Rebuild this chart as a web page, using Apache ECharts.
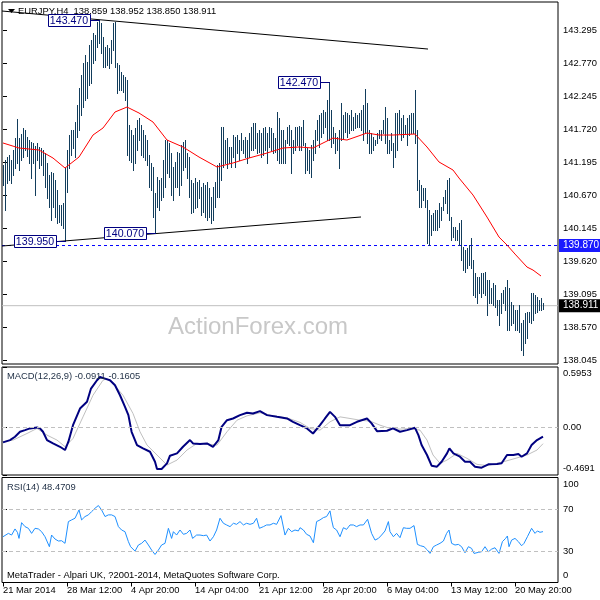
<!DOCTYPE html>
<html><head><meta charset="utf-8">
<script src="https://cdn.jsdelivr.net/npm/echarts@6/dist/echarts.min.js"></script>
<style>html,body{margin:0;padding:0;background:#fff}#c{width:600px;height:600px}</style>
</head><body><div id="c"></div>
<script>
// ---- price bars (H4), index 0 = first visible bar ----
const high = [141.154,141.233,141.281,141.313,141.233,141.393,141.584,141.887,141.584,141.648,
141.744,141.712,141.600,141.552,141.521,141.505,141.457,141.505,141.441,141.425,
141.393,141.345,141.186,140.994,141.042,141.026,140.914,140.755,140.516,140.516,
140.548,141.106,141.393,141.632,141.712,141.712,141.839,142.110,142.381,142.588,
142.780,142.907,142.796,143.067,143.146,143.258,143.226,143.433,143.470,143.417,
143.194,143.035,143.067,143.019,143.146,143.417,143.433,142.780,142.748,142.636,
142.588,142.556,142.509,141.791,141.712,141.632,141.744,141.871,141.903,141.791,
141.712,141.632,141.552,141.313,141.186,141.122,140.707,140.962,140.914,140.946,
141.233,141.552,141.552,141.505,141.345,141.122,141.202,141.361,141.345,141.473,
141.521,141.552,141.345,141.281,140.914,140.867,140.946,140.883,140.914,140.803,
140.867,140.835,140.883,140.787,140.643,140.803,140.883,141.154,141.186,141.760,
141.760,141.552,141.584,141.441,141.441,141.632,141.600,141.632,141.552,141.664,
141.552,141.600,141.552,141.664,141.760,141.823,141.823,141.664,141.712,141.664,
141.744,141.760,141.664,141.760,141.744,141.664,141.584,141.999,141.903,141.712,
141.712,141.552,141.760,141.791,141.712,141.552,141.760,141.760,141.776,141.760,
141.871,141.505,141.425,141.393,141.473,141.552,141.712,141.871,141.951,141.983,
142.031,141.999,142.190,142.470,142.031,141.760,141.664,141.600,141.712,142.142,
141.951,141.999,141.983,141.951,142.031,141.919,141.983,141.951,141.983,142.031,
142.110,142.365,142.142,141.712,141.664,141.600,141.552,141.664,141.712,141.712,
141.871,142.078,141.903,141.552,141.664,141.505,141.983,141.983,142.031,141.903,
141.951,141.791,141.903,141.951,141.983,141.983,142.349,141.712,140.914,140.835,
140.787,140.787,140.596,140.436,140.356,140.388,140.436,140.436,140.548,140.484,
140.643,140.755,140.914,140.946,140.324,140.165,140.165,140.117,140.229,140.277,
139.846,139.798,139.830,139.878,139.989,139.639,139.431,139.368,139.368,139.431,
139.431,139.447,139.320,139.320,139.192,139.272,139.240,139.001,139.001,139.113,
139.160,139.208,139.320,139.192,138.969,138.921,138.841,138.841,138.921,138.634,
138.682,138.793,138.809,138.809,139.113,139.113,139.081,139.049,139.001,139.033,
138.952];
const low = [140.835,140.436,140.867,140.914,140.867,140.994,141.106,141.186,141.074,141.233,
141.281,141.393,141.297,141.186,140.946,141.186,140.675,141.233,141.106,141.154,
140.994,140.803,140.627,140.484,140.277,140.484,140.324,140.229,140.245,140.197,
140.149,139.950,140.723,141.106,141.313,141.425,141.281,141.600,141.712,141.951,
142.078,142.190,142.222,142.429,142.461,142.780,142.828,143.035,143.099,142.939,
142.716,142.716,142.748,142.700,142.780,142.987,142.716,142.301,142.349,142.349,
142.317,142.190,141.313,141.233,141.202,141.074,141.186,141.393,141.552,141.313,
141.281,141.233,141.154,140.803,140.755,140.324,140.070,140.484,140.436,140.596,
140.643,140.803,141.026,140.962,140.675,140.596,140.803,140.803,140.675,140.835,
141.074,141.122,140.946,140.643,140.388,140.404,140.468,140.484,140.627,140.356,
140.404,140.324,140.277,140.324,140.229,140.277,140.484,140.643,140.643,140.914,
141.122,141.186,141.106,141.186,141.122,141.281,141.122,141.345,141.233,141.393,
141.345,141.281,141.186,141.281,141.393,141.393,141.425,141.345,141.361,141.281,
141.313,141.393,141.186,141.441,141.393,141.345,141.361,141.233,141.186,141.186,
141.186,141.186,141.505,141.473,141.026,141.345,141.393,141.473,141.393,141.393,
141.473,141.026,141.074,141.026,140.962,141.233,141.345,141.552,141.441,141.600,
141.664,141.760,141.552,141.552,141.441,141.505,141.345,141.393,141.106,141.552,
141.584,141.680,141.600,141.664,141.712,141.712,141.744,141.760,141.760,141.712,
141.552,141.664,141.505,141.345,141.345,141.393,141.473,141.505,141.584,141.552,
141.664,141.505,141.345,141.345,141.393,141.122,141.281,141.393,141.664,141.552,
141.600,141.664,141.473,141.632,141.664,141.664,141.505,140.755,140.484,140.484,
140.596,140.484,139.910,139.878,140.037,140.117,140.117,140.117,140.165,140.277,
140.436,140.548,140.388,140.277,139.958,140.005,139.958,139.958,139.878,139.639,
139.479,139.447,139.511,139.559,139.511,139.081,139.049,138.953,139.113,139.049,
139.113,139.081,138.762,138.953,138.953,138.921,138.889,138.762,138.602,138.793,
138.953,138.841,138.522,138.522,138.602,138.634,138.522,138.522,138.491,138.203,
138.124,138.315,138.395,138.650,138.634,138.682,138.793,138.809,138.841,138.841,
138.850];

// ---- moving average (red) ----
const maIdx = [0,8,18,25,31,38,45,50,53,56,62,68,75,82,90,98,107,115,123,132,140,148,155,165,172,182,188,195,206,212,218,225,228,235,242,248,252,256,262,265,269];
const maVal = [141.505,141.425,141.393,141.265,141.106,141.281,141.632,141.744,141.871,141.999,142.078,141.983,141.839,141.552,141.441,141.281,141.122,141.186,141.265,141.345,141.425,141.441,141.425,141.584,141.552,141.664,141.632,141.632,141.648,141.441,141.202,141.074,140.946,140.675,140.324,140.005,139.878,139.734,139.527,139.479,139.384];

// ---- MACD(12,26,9) ----
const macdIdx = [0,3.5,6,8.5,11,13.5,17,18.5,20,22,25,28.5,31,32.7,35,38.5,42,44,47,48.5,51,53.5,56,58.5,61,62.7,64.3,67,70,73.5,76,77,79.3,82,83.5,87,90,93.5,95,98.5,102,105,107.7,109.3,112,115,118.5,122,125,128.5,132,137,142,145,148.5,152,155,158.5,161,163.5,166,168.5,173.5,177,182,184.3,187,192,195,198.5,202,206,207.7,209.3,212,214.3,217,219.3,222,223.2,225.2,228.5,231,233.5,236,239.3,242.7,247,249.3,252,255.2,257.7,259.3,262,264.3,267,270];
const macdVal = [-0.148,-0.125,-0.092,-0.043,-0.027,-0.010,0.000,-0.010,-0.043,-0.125,-0.158,-0.191,-0.223,-0.141,0.022,0.186,0.252,0.383,0.465,0.497,0.481,0.465,0.415,0.317,0.202,0.121,-0.043,-0.174,-0.207,-0.240,-0.338,-0.410,-0.410,-0.354,-0.279,-0.256,-0.191,-0.125,-0.158,-0.164,-0.158,-0.191,-0.125,0.006,0.071,0.088,0.121,0.144,0.137,0.160,0.121,0.104,0.088,0.055,0.022,-0.010,-0.060,0.022,0.088,0.153,0.104,0.022,0.022,0.055,0.088,0.039,-0.037,-0.033,-0.010,-0.043,-0.027,-0.004,-0.076,-0.174,-0.272,-0.377,-0.387,-0.338,-0.256,-0.207,-0.256,-0.289,-0.338,-0.338,-0.387,-0.397,-0.364,-0.361,-0.354,-0.272,-0.272,-0.263,-0.289,-0.256,-0.174,-0.125,-0.091];
const sigIdx = [0,5,12,17,22,27,31,35,40,45,50,52,55,60,65,68.5,72,77,82,87,92,97,102,107,112,117,122,128.5,135,142,148.5,153.5,158.5,163.5,168.5,173.5,178.5,183.5,188.5,193.5,198.5,203.5,208.5,212,215,218.5,222,227,232,237,242,248.5,255,262,267,270];
const sigVal = [-0.141,-0.125,-0.060,-0.010,-0.076,-0.125,-0.190,-0.109,0.104,0.317,0.465,0.481,0.432,0.317,0.137,-0.043,-0.174,-0.272,-0.371,-0.322,-0.223,-0.158,-0.164,-0.174,-0.043,0.071,0.114,0.144,0.114,0.094,0.050,-0.010,-0.027,0.055,0.104,0.088,0.071,0.062,0.022,-0.010,-0.017,-0.010,-0.027,-0.125,-0.272,-0.354,-0.322,-0.256,-0.305,-0.364,-0.377,-0.348,-0.312,-0.272,-0.223,-0.1605];

// ---- RSI(14) ----
const rsiIdx = [0,1,2.7,4.3,6,7.2,8,9.3,11,12.7,14.3,16,17.7,19.3,21,23.2,24.3,26,27.7,29.3,31,32.7,34.3,36,38,39.3,41,42.7,44.3,46,47.7,49.3,51,52.7,54.3,56,57.7,59.3,61,62.7,63.8,66,67.7,69.3,71,72.7,74.3,76,77.7,79.3,81,82.7,84.3,85.2,86.8,88.5,90.2,91.8,93.5,94.8,96.8,98.5,100.2,101.8,103.5,105.2,106.8,108.5,110.2,111.8,113.5,115.2,116.8,118.5,120.2,121.8,123.5,125.2,126.8,128.2,130.2,131.8,133.5,135.2,136.8,139,141,142.7,144.3,146,147.7,
148.5,150.2,151.8,153.5,155.2,156.8,158.5,160.2,161.8,163.5,164.3,165.2,166.8,168.5,170.2,171.8,173.5,175.2,176.8,178.5,180.2,182.3,184.3,186,187.7,189.3,191,192.7,193.5,195.2,196.8,198.5,200.2,201.8,203.5,205.5,207.2,208.8,210.5,212.2,213.5,215.2,216.8,218.5,220.2,221.8,223,224.3,226,227.7,229.3,231,232.7,234.3,235.5,237.7,239.3,241,242.7,244.3,246,248,249.7,251.3,252.2,253,254.3,256,257.7,259.3,260.5,262.2,264.3,266,267.2,268.5,270];
const rsiVal = [43.6,42.0,46.8,45.2,51.0,47.8,42.0,57.0,53.2,51.6,46.8,51.6,51.0,48.4,43.6,34.1,45.2,41.4,39.5,39.8,37.3,58.0,59.6,61.2,69.1,59.6,62.8,64.4,67.5,70.7,73.3,69.1,62.8,64.4,64.4,62.8,53.2,50.0,48.4,38.9,34.1,29.9,35.7,37.3,40.4,35.7,30.9,26.7,30.9,35.7,37.3,51.6,42.0,48.4,45.2,50.0,45.9,46.8,50.0,42.0,45.2,45.2,44.6,45.2,39.5,43.6,50.0,61.2,56.4,54.8,53.2,56.4,55.4,58.0,54.8,56.4,55.4,56.4,61.2,51.6,53.2,54.8,54.8,56.4,55.4,63.7,45.2,51.6,48.4,50.0,49.1,
52.2,50.0,45.9,44.3,37.9,58.0,59.6,61.8,62.8,68.2,59.6,52.2,50.0,43.6,52.2,50.6,54.8,54.8,53.2,54.8,54.8,60.2,46.8,40.4,42.0,45.2,49.1,58.0,48.4,43.6,46.8,42.7,52.2,51.6,51.6,54.2,36.3,35.0,34.1,30.9,27.7,34.1,35.7,37.3,39.5,46.8,50.0,37.3,35.7,36.3,34.1,28.3,34.1,32.5,27.7,28.7,29.3,34.1,29.3,31.8,33.1,27.7,38.9,42.0,44.3,34.1,40.4,42.0,38.9,35.0,37.3,43.6,51.6,46.8,49.1,47.8,48.47];

// ---- axes / annotations ----
const priceTicks = [143.295,142.770,142.245,141.720,141.195,140.670,140.145,139.620,139.095,138.570,138.045];
const macdTicks = [-0.4691,0,0.5953];
const rsiTicks = [0,30,70,100];
const timeTickIdx = [0,32,64,96,128,160,192,224,256];
const timeTickLabels = ['21 Mar 2014','28 Mar 12:00','4 Apr 20:00','14 Apr 04:00','21 Apr 12:00','28 Apr 20:00','6 May 04:00','13 May 12:00','20 May 20:00'];
const annIdx = [48,163,31,76];
const annPrice = [143.470,142.470,139.950,140.070];
const annText = ['143.470','142.470','139.950','140.070'];
const trend1 = [[-0.5,143.609],[212.5,143.003]];
const trend2 = [[-0.5,139.862],[179,140.325]];
const levelLine = 139.870;
const bidLine = 138.911;

const FONT = "'Liberation Sans',Arial,sans-serif";
const FS = 9.4;
const BAR = '#123d5c';
const NAVY = '#000080';
const XMIN = -0.5, XMAX = 277.5;

const chart = echarts.init(document.getElementById('c'), null, {renderer:'canvas'});
const xAx = g => ({
  type:'value', gridIndex:g, min:XMIN, max:XMAX,
  axisLine:{show:false}, splitLine:{show:false},
  axisTick:{show:g===2, length:4, customValues:timeTickIdx, lineStyle:{color:'#000'}},
  axisLabel:{show:g===2, customValues:timeTickIdx, align:'left', margin:3, color:'#000', fontSize:FS, fontFamily:FONT,
    formatter: v => { const k = timeTickIdx.indexOf(Math.round(v)); return k >= 0 ? timeTickLabels[k] : ''; }}
});
const labStyle = {color:'#000', fontSize:FS, fontFamily:FONT};
const priceBox = (bg, txt) => ({show:true, distance:1, color:'#fff', backgroundColor:bg, padding:[2,4,1,4], fontSize:FS+0.6, fontFamily:FONT, formatter:txt});
const option = {
  animation:false,
  backgroundColor:'#fff',
  textStyle:{fontFamily:FONT},
  grid:[
    {left:2, right:42, top:2, height:362, show:true, borderColor:'#000', borderWidth:1},
    {left:2, right:42, top:367, height:108, show:true, borderColor:'#000', borderWidth:1},
    {left:2, right:42, top:477.5, height:105, show:true, borderColor:'#000', borderWidth:1}
  ],
  xAxis:[xAx(0), xAx(1), xAx(2)],
  yAxis:[
    {type:'value', gridIndex:0, position:'right', min:137.981, max:143.753,
      axisLine:{show:false}, splitLine:{show:false},
      axisTick:{show:true, length:4, customValues:priceTicks, lineStyle:{color:'#000'}},
      axisLabel:Object.assign({customValues:priceTicks, margin:5, formatter:v=>v.toFixed(3)}, labStyle)},
    {type:'value', gridIndex:1, position:'right', min:-0.4691, max:0.5953,
      axisLine:{show:false}, splitLine:{show:false},
      axisTick:{show:true, length:4, customValues:macdTicks, lineStyle:{color:'#000'}},
      axisLabel:Object.assign({customValues:macdTicks, margin:5,
        formatter:v=> v > 0.3 ? '{t|' + v.toFixed(4) + '}' : (v < -0.3 ? '{b|' + v.toFixed(4) + '}' : v.toFixed(2)),
        rich:{t:Object.assign({padding:[13,0,0,0]}, labStyle), b:Object.assign({padding:[0,0,13,0]}, labStyle)}}, labStyle)},
    {type:'value', gridIndex:2, position:'right', min:0, max:100,
      axisLine:{show:false}, splitLine:{show:false},
      axisTick:{show:true, length:4, customValues:rsiTicks, lineStyle:{color:'#000'}},
      axisLabel:Object.assign({customValues:rsiTicks, margin:5,
        formatter:v=> v >= 100 ? '{t|' + v + '}' : (v <= 0 ? '{b|' + v + '}' : String(v)),
        rich:{t:Object.assign({padding:[13,0,0,0]}, labStyle), b:Object.assign({padding:[0,0,14,0]}, labStyle)}}, labStyle)}
  ],
  graphic:[
    {type:'polygon', z:10, shape:{points:[[8,9],[15,9],[11.5,13]]}, style:{fill:'#000'}},
    {type:'text', z:10, x:18, y:11, style:{text:'EURJPY,H4  138.859 138.952 138.850 138.911', fill:'#000', fontSize:FS, fontFamily:FONT, verticalAlign:'middle'}},
    {type:'text', z:1, x:258, y:327, style:{text:'ActionForex.com', fill:'#c8c8c8', fontSize:24, fontFamily:FONT, align:'center', verticalAlign:'middle'}},
    {type:'text', z:10, x:7, y:376, style:{text:'MACD(12,26,9) -0.0911 -0.1605', fill:'#1e2e44', fontSize:FS, fontFamily:FONT, verticalAlign:'middle'}},
    {type:'text', z:10, x:7, y:487, style:{text:'RSI(14) 48.4709', fill:'#1e2e44', fontSize:FS, fontFamily:FONT, verticalAlign:'middle'}},
    {type:'text', z:10, x:7, y:575, style:{text:'MetaTrader - Alpari UK, ?2001-2014, MetaQuotes Software Corp.', fill:'#000', fontSize:FS, fontFamily:FONT, verticalAlign:'middle'}}
  ],
  series:[
    // bid line (grey) and alert level (blue dashed), full width of the price panel
    {type:'line', xAxisIndex:0, yAxisIndex:0, z:2, symbol:'none', silent:true,
      data:[[XMIN, bidLine],[XMAX, bidLine]],
      lineStyle:{color:'#c0c0c0', width:1, type:'solid'},
      endLabel:priceBox('#000', bidLine.toFixed(3))},
    {type:'line', xAxisIndex:0, yAxisIndex:0, z:2, symbol:'none', silent:true,
      data:[[XMIN, levelLine],[XMAX, levelLine]],
      lineStyle:{color:'#0000ff', width:1, type:[3,3]},
      endLabel:priceBox('#1a1aff', levelLine.toFixed(3))},
    {type:'custom', xAxisIndex:0, yAxisIndex:0, z:3, clip:true,
      data: high.map((h,i)=>[i, low[i], h]),
      encode:{x:0, y:[1,2]},
      renderItem:(params, api)=>{
        const a = api.coord([api.value(0), api.value(1)]);
        const b = api.coord([api.value(0), api.value(2)]);
        const x = Math.round(a[0]) + 0.5;
        return {type:'line', shape:{x1:x, y1:Math.round(b[1]), x2:x, y2:Math.round(a[1]) + 1}, style:{stroke:BAR, lineWidth:1}};
      }},
    {type:'line', xAxisIndex:0, yAxisIndex:0, z:4, showSymbol:false, symbol:'none',
      data: maIdx.map((x,k)=>[x, maVal[k]]),
      lineStyle:{color:'#ff0000', width:1}},
    {type:'line', xAxisIndex:0, yAxisIndex:0, z:5, symbol:'none', data:trend1, lineStyle:{color:'#000', width:1}},
    {type:'line', xAxisIndex:0, yAxisIndex:0, z:5, symbol:'none', data:trend2, lineStyle:{color:'#000', width:1}},
    {type:'custom', xAxisIndex:0, yAxisIndex:0, z:6, clip:false,
      data: annIdx.map((x,k)=>[x, annPrice[k]]),
      encode:{x:0, y:1},
      renderItem:(params, api)=>{
        const p = api.coord([api.value(0), api.value(1)]);
        const px = Math.round(p[0]), py = Math.round(p[1]);
        const bx = px - 9;
        return {type:'group', children:[
          {type:'line', shape:{x1:bx, y1:py+0.5, x2:px+1, y2:py+0.5}, style:{stroke:NAVY, lineWidth:1}},
          {type:'rect', shape:{x:bx-42+0.5, y:py-6+0.5, width:42, height:12}, style:{fill:'#fff', stroke:NAVY, lineWidth:1}},
          {type:'text', x:bx-21, y:py+1, style:{text:annText[params.dataIndex], fill:NAVY, fontSize:FS+1.2, fontFamily:FONT, align:'center', verticalAlign:'middle'}}
        ]};
      }},
    {type:'line', xAxisIndex:1, yAxisIndex:1, z:3, symbol:'none',
      data: sigIdx.map((x,k)=>[x, sigVal[k]]),
      lineStyle:{color:'#c0c0c0', width:1},
      markLine:{silent:true, symbol:['none','none'], label:{show:false},
        lineStyle:{color:'#c0c0c0', type:[4,3], width:1, opacity:1},
        data:[{yAxis:0}]}},
    {type:'line', xAxisIndex:1, yAxisIndex:1, z:4, symbol:'none',
      data: macdIdx.map((x,k)=>[x, macdVal[k]]),
      lineStyle:{color:NAVY, width:2}},
    {type:'line', xAxisIndex:2, yAxisIndex:2, z:4, symbol:'none',
      data: rsiIdx.map((x,k)=>[x, rsiVal[k]]),
      lineStyle:{color:'#1e90ff', width:1},
      markLine:{silent:true, symbol:['none','none'], label:{show:false},
        lineStyle:{color:'#c0c0c0', type:[4,3], width:1, opacity:1},
        data:[{yAxis:70}, {yAxis:30}]}}
  ]
};
chart.setOption(option);
</script>
</body></html>
